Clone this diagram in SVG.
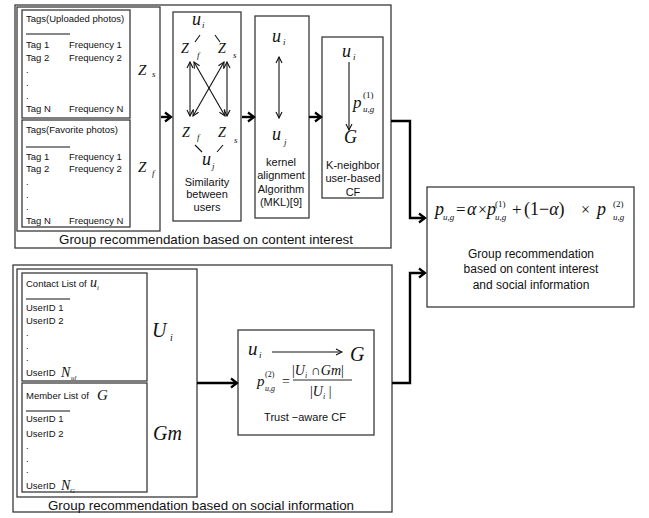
<svg xmlns="http://www.w3.org/2000/svg" width="649" height="518" viewBox="0 0 649 518">
<style>
.box{fill:none;stroke:#3a3a3a;stroke-width:1.3}
.t{font-family:"Liberation Sans",Arial,sans-serif;font-size:9.5px;fill:#111}
.ttl{font-family:"Liberation Sans",Arial,sans-serif;font-size:13px;fill:#111;text-anchor:middle}
.c{font-family:"Liberation Sans",Arial,sans-serif;font-size:11px;fill:#111;text-anchor:middle}
.c12{font-family:"Liberation Sans",Arial,sans-serif;font-size:12px;fill:#111;text-anchor:middle}
.m{font-family:"Liberation Serif","Times New Roman",serif;font-style:italic;fill:#111}
.n{font-family:"Liberation Serif","Times New Roman",serif;fill:#111}
.conn{stroke:#000;stroke-width:2.4;fill:none}
.thin{stroke:#111;stroke-width:1.1;fill:none}
</style>
<defs>
<marker id="ah" markerWidth="10" markerHeight="12" refX="7" refY="6" orient="auto" markerUnits="userSpaceOnUse"><path d="M1,1.5 L7,6 L1,10.5" fill="none" stroke="#000" stroke-width="2.2"/></marker>
<marker id="th" markerWidth="8" markerHeight="8" refX="7" refY="4" orient="auto-start-reverse" markerUnits="userSpaceOnUse"><path d="M1,1 L7,4 L1,7" fill="none" stroke="#111" stroke-width="1.1"/></marker>
</defs>
<rect width="649" height="518" fill="#fff"/>

<g id="content-section">
<rect class="box" x="15" y="5" width="376" height="243"/>
<text class="ttl" x="206" y="244" textLength="294" lengthAdjust="spacingAndGlyphs">Group recommendation based on content interest</text>
</g>

<g id="tag-lists">
<rect class="box" x="17" y="7" width="143" height="224"/>
<rect class="box" x="22" y="10" width="108" height="108"/>
<text class="t" x="26" y="21.5">Tags(Uploaded photos)</text>
<line x1="26" y1="34" x2="70" y2="34" stroke="#111" stroke-width="1"/>
<text class="t" x="26" y="47.5">Tag 1</text><text class="t" x="69" y="47.5">Frequency 1</text>
<text class="t" x="26" y="60.5">Tag 2</text><text class="t" x="69" y="60.5">Frequency 2</text>
<text class="t" x="26" y="73">.</text><text class="t" x="26" y="86">.</text><text class="t" x="26" y="99">.</text>
<text class="t" x="26" y="111.5">Tag N</text><text class="t" x="69" y="111.5">Frequency N</text>
<text class="m" x="138" y="75" font-size="15">Z</text><text class="m" x="152" y="77" font-size="9">s</text>

<rect class="box" x="22" y="120" width="108" height="107"/>
<text class="t" x="26" y="132.5">Tags(Favorite photos)</text>
<line x1="26" y1="147" x2="70" y2="147" stroke="#111" stroke-width="1"/>
<text class="t" x="26" y="159.5">Tag 1</text><text class="t" x="69" y="159.5">Frequency 1</text>
<text class="t" x="26" y="171.5">Tag 2</text><text class="t" x="69" y="171.5">Frequency 2</text>
<text class="t" x="26" y="185">.</text><text class="t" x="26" y="198">.</text><text class="t" x="26" y="210">.</text>
<text class="t" x="26" y="223.5">Tag N</text><text class="t" x="69" y="223.5">Frequency N</text>
<text class="m" x="138" y="172" font-size="15">Z</text><text class="m" x="152" y="176" font-size="9">f</text>
</g>

<g id="similarity">
<rect class="box" x="173" y="12" width="68" height="209"/>
<text class="m" x="192" y="25" font-size="18">u</text><text class="m" x="202" y="28" font-size="9">i</text>
<line class="thin" x1="195" y1="42" x2="200" y2="35"/>
<line class="thin" x1="215" y1="35" x2="220" y2="42"/>
<text class="m" x="181" y="53" font-size="14">Z</text><text class="m" x="197" y="58" font-size="9">f</text>
<text class="m" x="218" y="53" font-size="14">Z</text><text class="m" x="233" y="58" font-size="9">s</text>
<line class="thin" x1="190" y1="62" x2="190" y2="116" marker-start="url(#th)" marker-end="url(#th)"/>
<line class="thin" x1="227" y1="62" x2="227" y2="116" marker-start="url(#th)" marker-end="url(#th)"/>
<line class="thin" x1="194" y1="62" x2="225" y2="116" marker-start="url(#th)" marker-end="url(#th)"/>
<line class="thin" x1="224" y1="62" x2="193" y2="116" marker-start="url(#th)" marker-end="url(#th)"/>
<text class="m" x="182" y="137" font-size="14">Z</text><text class="m" x="197" y="140" font-size="9">f</text>
<text class="m" x="218" y="137" font-size="14">Z</text><text class="m" x="234" y="143" font-size="9">s</text>
<line class="thin" x1="195" y1="145" x2="202" y2="152"/>
<line class="thin" x1="217" y1="152" x2="223" y2="145"/>
<text class="m" x="202" y="165" font-size="18">u</text><text class="m" x="212" y="169" font-size="9">j</text>
<text class="c" x="207" y="186">Similarity</text>
<text class="c" x="207" y="198">between</text>
<text class="c" x="207" y="211">users</text>
</g>

<g id="kernel">
<rect class="box" x="255" y="16" width="54" height="202"/>
<text class="m" x="272" y="42" font-size="18">u</text><text class="m" x="283" y="45" font-size="9">i</text>
<line class="thin" x1="279" y1="57" x2="279" y2="118" marker-start="url(#th)" marker-end="url(#th)"/>
<text class="m" x="272" y="140" font-size="18">u</text><text class="m" x="284" y="145" font-size="9">j</text>
<text class="c" x="281" y="166">kernel</text>
<text class="c" x="281" y="179">alignment</text>
<text class="c" x="281" y="193">Algorithm</text>
<text class="c" x="281" y="206">(MKL)[9]</text>
</g>

<g id="k-neighbor">
<rect class="box" x="322" y="37" width="61" height="161"/>
<text class="m" x="342" y="57" font-size="18">u</text><text class="m" x="353" y="60" font-size="9">i</text>
<line class="thin" x1="349" y1="62" x2="349" y2="130" marker-end="url(#th)"/>
<text class="m" x="353" y="108" font-size="17">p</text>
<text class="n" x="363" y="98" font-size="9">(1)</text>
<text class="m" x="363" y="112" font-size="9">u,g</text>
<text class="m" x="344" y="143" font-size="18">G</text>
<text class="c" x="353" y="169">K-neighbor</text>
<text class="c" x="353" y="182">user-based</text>
<text class="c" x="353" y="196">CF</text>
</g>

<g id="social-section">
<rect class="box" x="13" y="265" width="379" height="247"/>
<rect class="box" x="17" y="269" width="180" height="228"/>
<text class="ttl" x="201" y="510" textLength="306" lengthAdjust="spacingAndGlyphs">Group recommendation based on social information</text>
</g>

<g id="contact-list">
<rect class="box" x="22" y="273" width="125" height="108"/>
<text class="t" x="26" y="286.5">Contact List of</text>
<text class="m" x="90" y="287" font-size="14">u</text><text class="m" x="97" y="290" font-size="7">i</text>
<line x1="26" y1="299" x2="70" y2="299" stroke="#111" stroke-width="1"/>
<text class="t" x="26" y="310.5">UserID 1</text>
<text class="t" x="26" y="323.5">UserID 2</text>
<text class="t" x="26" y="336">.</text><text class="t" x="26" y="349">.</text><text class="t" x="26" y="361">.</text>
<text class="t" x="26" y="376">UserID</text>
<text class="m" x="61" y="377" font-size="14">N</text><text class="m" x="71" y="380" font-size="7">ul</text>
<text class="m" x="152" y="337" font-size="20">U</text><text class="m" x="170" y="341" font-size="10">i</text>
</g>

<g id="member-list">
<rect class="box" x="22" y="383" width="125" height="109"/>
<text class="t" x="26" y="398.5">Member List of</text>
<text class="m" x="97" y="400" font-size="15">G</text>
<line x1="26" y1="411" x2="70" y2="411" stroke="#111" stroke-width="1"/>
<text class="t" x="26" y="422">UserID 1</text>
<text class="t" x="26" y="437">UserID 2</text>
<text class="t" x="26" y="449">.</text><text class="t" x="26" y="462">.</text><text class="t" x="26" y="473">.</text>
<text class="t" x="26" y="489">UserID</text>
<text class="m" x="61" y="490" font-size="14">N</text><text class="m" x="70" y="493" font-size="7">G</text>
<text class="m" x="153" y="440" font-size="20">Gm</text>
</g>

<g id="trust-aware">
<rect class="box" x="238" y="330" width="136" height="105"/>
<text class="m" x="248" y="355" font-size="19">u</text><text class="m" x="259" y="358" font-size="9">i</text>
<line class="thin" x1="272" y1="352" x2="342" y2="352" marker-end="url(#th)"/>
<text class="m" x="350" y="361" font-size="20">G</text>
<text class="m" x="257" y="386" font-size="15">p</text>
<text class="n" x="265" y="377" font-size="8">(2)</text>
<text class="m" x="265" y="391" font-size="8">u,g</text>
<text class="n" x="282" y="386" font-size="14">=</text>
<text class="n" x="292" y="375" font-size="14">|<tspan class="m">U</tspan><tspan class="m" font-size="8" dy="3">i</tspan><tspan dy="-3"> ∩</tspan><tspan class="m">Gm</tspan>|</text>
<line x1="293" y1="380" x2="352" y2="380" stroke="#111" stroke-width="0.9"/>
<text class="n" x="310" y="396" font-size="14">|<tspan class="m">U</tspan><tspan class="m" font-size="8" dy="3">i</tspan><tspan dy="-3"> |</tspan></text>
<text class="c" x="305" y="421">Trust −aware CF</text>
</g>

<g id="combined">
<rect class="box" x="427" y="187" width="207" height="120"/>
<text class="m" x="435" y="215" font-size="18">p</text>
<text class="m" x="443" y="220" font-size="9">u,g</text>
<text class="n" x="456" y="215" font-size="17">=</text>
<text class="m" x="467" y="215" font-size="18">α</text>
<text class="n" x="478" y="215" font-size="16">×</text>
<text class="m" x="487" y="215" font-size="18">p</text>
<text class="n" x="495" y="207" font-size="9">(1)</text>
<text class="m" x="495" y="220" font-size="9">u,g</text>
<text class="n" x="512" y="215" font-size="17">+</text>
<text class="n" x="524" y="215" font-size="18">(1−<tspan class="m">α</tspan>)</text>
<text class="n" x="581" y="215" font-size="16">×</text>
<text class="m" x="597" y="215" font-size="18">p</text>
<text class="n" x="613" y="207" font-size="9">(2)</text>
<text class="m" x="613" y="220" font-size="9">u,g</text>
<text class="c12" x="531" y="258">Group recommendation</text>
<text class="c12" x="531" y="273">based on content interest</text>
<text class="c12" x="531" y="289">and social  information</text>
</g>

<g id="connectors">
<line class="conn" x1="161" y1="117" x2="171" y2="117" marker-end="url(#ah)"/>
<line class="conn" x1="242" y1="117" x2="254" y2="117" marker-end="url(#ah)"/>
<line class="conn" x1="309" y1="117" x2="321" y2="117" marker-end="url(#ah)"/>
<path class="conn" d="M391,121 H410 V218 H425" marker-end="url(#ah)"/>
<path class="conn" d="M392,383 H410 V273 H425" marker-end="url(#ah)"/>
<line class="conn" x1="197" y1="383" x2="237" y2="383" marker-end="url(#ah)"/>
</g>
</svg>
